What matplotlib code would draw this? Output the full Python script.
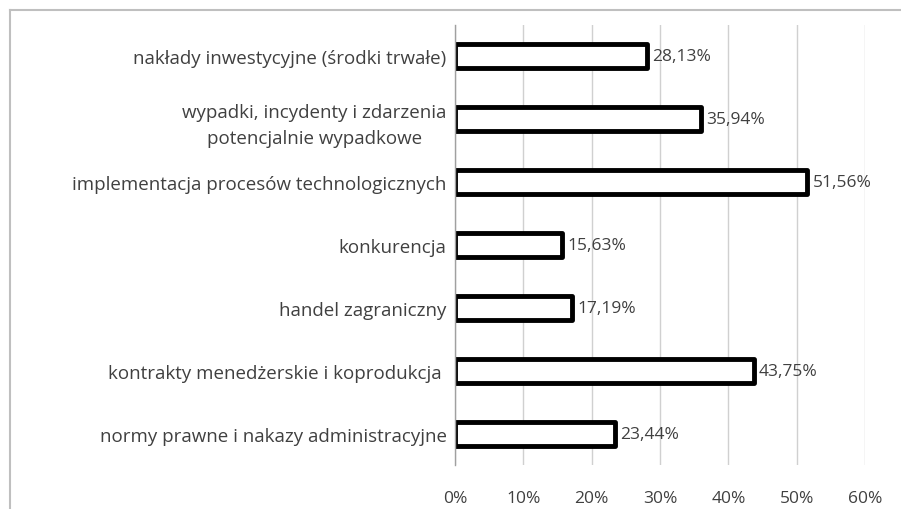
import matplotlib
matplotlib.use("Agg")
import matplotlib.pyplot as plt
from matplotlib.lines import Line2D

categories = [
    "nakłady inwestycyjne (środki trwałe)",
    "wypadki, incydenty i zdarzenia\npotencjalnie wypadkowe",
    "implementacja procesów technologicznych",
    "konkurencja",
    "handel zagraniczny",
    "kontrakty menedżerskie i koprodukcja ",
    "normy prawne i nakazy administracyjne",
]
values = [28.13, 35.94, 51.56, 15.63, 17.19, 43.75, 23.44]
xticks = [0, 10, 20, 30, 40, 50, 60]
xtick_labels = ["0%", "10%", "20%", "30%", "40%", "50%", "60%"]

plt.rcParams['font.family'] = ['Open Sans', 'DejaVu Sans']
txt = '#404040'

fig = plt.figure(figsize=(9.01, 5.10), dpi=100)
ax = fig.add_axes([455/901, 1-466/510, (865-455)/901, (466-26)/510])

n = len(categories)
ypos = list(range(n))[::-1]
bars = ax.barh(ypos, values, height=0.38, color='white', edgecolor='black', linewidth=3.5, zorder=3)
for b in bars:
    b.set_joinstyle('round')
for y, v in zip(ypos, values):
    ax.text(v + 0.75, y, f"{v:.2f}%".replace('.', ','), va='center', ha='left',
            fontsize=12.5, color=txt, zorder=4)

ax.set_xlim(0, 60)
ax.set_ylim(-0.5, n - 0.5)
ax.set_xticks(xticks)
ax.set_xticklabels(xtick_labels, fontsize=12.5, color=txt)
ax.set_yticks(ypos)
ax.set_yticklabels(categories, fontsize=13.5, color=txt, multialignment='center',
                   linespacing=1.55)
ax.tick_params(axis='both', length=0)
ax.tick_params(axis='x', pad=18)
ax.tick_params(axis='y', pad=6)
ax.grid(axis='x', color='#d0d0d0', linewidth=1, zorder=0)
for s in ['top', 'right', 'bottom']:
    ax.spines[s].set_visible(False)
ax.spines['left'].set_color('#a0a0a0')
ax.spines['left'].set_linewidth(1)
ax.spines['left'].set_zorder(5)

# outer chart frame (partially visible)
fx = 9.5/901
fy = 1 - 10.5/510
fig.add_artist(Line2D([fx, fx], [0, fy], transform=fig.transFigure, color='#bfbfbf', lw=1.5))
fig.add_artist(Line2D([fx, 1], [fy, fy], transform=fig.transFigure, color='#bfbfbf', lw=1.5))

fig.savefig("out.png", dpi=100)
